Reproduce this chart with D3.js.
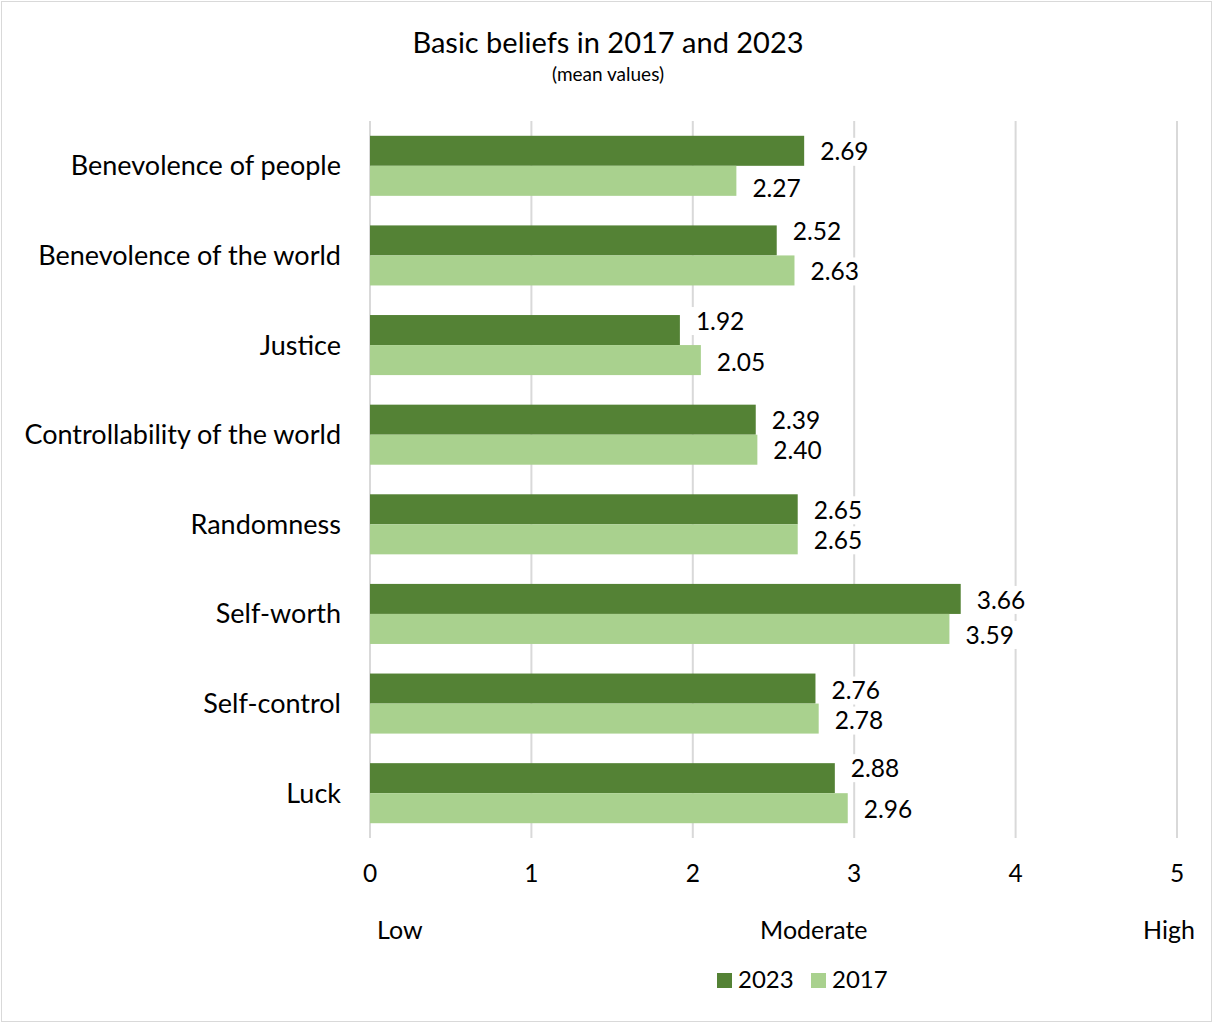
<!DOCTYPE html>
<html>
<head>
<meta charset="utf-8">
<script src="https://cdn.jsdelivr.net/npm/d3@7/dist/d3.min.js"></script>
<style>
  html, body { margin: 0; padding: 0; background: #fff; }
  svg { display: block; font-family: Lato, "Open Sans", sans-serif; }
</style>
</head>
<body>
<svg id="chart" width="1213" height="1023"></svg>
<script>
// Basic beliefs scales, mean values per survey year
const categories = [
  "Benevolence of people",
  "Benevolence of the world",
  "Justice",
  "Controllability of the world",
  "Randomness",
  "Self-worth",
  "Self-control",
  "Luck"
];
const values2023 = [2.69, 2.52, 1.92, 2.39, 2.65, 3.66, 2.76, 2.88];
const values2017 = [2.27, 2.63, 2.05, 2.40, 2.65, 3.59, 2.78, 2.96];
const seriesNames = ["2023", "2017"];
const xTicks = [0, 1, 2, 3, 4, 5];
const scaleLabels = [
  { text: "Low", value: 0 },
  { text: "Moderate", value: 2.75 },
  { text: "High", value: 5 }
];

// vertical nudges for value labels that would otherwise collide
const labelNudge2023 = [1, -9, -9, 1, 1, 1, 2, -10];
const labelNudge2017 = [8, 1, 2, 1, 1, 6, 2, 1];

const colors = { "2023": "#548235", "2017": "#A9D18E" };
const W = 1213, H = 1023;
const margin = { left: 370, right: 36, top: 121, bottom: 185 };

const svg = d3.select("#chart");

// outer frame
svg.append("rect")
  .attr("x", 1.5).attr("y", 1.5)
  .attr("width", W - 3).attr("height", H - 3)
  .attr("fill", "#fff").attr("stroke", "#d9d9d9").attr("stroke-width", 1);

// titles
svg.append("text")
  .attr("x", 608).attr("y", 53)
  .attr("text-anchor", "middle")
  .attr("font-size", 29).attr("fill", "#000")
  .text("Basic beliefs in 2017 and 2023");
svg.append("text")
  .attr("x", 608).attr("y", 81)
  .attr("text-anchor", "middle")
  .attr("font-size", 19).attr("fill", "#000")
  .text("(mean values)");

const x = d3.scaleLinear().domain([0, 5]).range([margin.left, W - margin.right]);
const y = d3.scaleBand().domain(categories)
  .range([margin.top, H - margin.bottom])
  .paddingInner(0.33).paddingOuter(0.165);
const ySub = d3.scaleBand().domain(seriesNames).range([0, y.bandwidth()]);

// gridlines
svg.append("g").selectAll("line")
  .data(xTicks).join("line")
  .attr("x1", d => x(d)).attr("x2", d => x(d))
  .attr("y1", margin.top).attr("y2", H - margin.bottom)
  .attr("stroke", "#d9d9d9").attr("stroke-width", 2);

// tick labels
svg.append("g").selectAll("text")
  .data(xTicks).join("text")
  .attr("x", d => x(d)).attr("y", 882)
  .attr("text-anchor", "middle")
  .attr("font-size", 24.5).attr("fill", "#000")
  .text(d => d);

// Low / Moderate / High
svg.append("g").selectAll("text")
  .data(scaleLabels).join("text")
  .attr("x", d => x(d.value) + (d.value === 0 ? 7 : (d.value === 5 ? -8 : 0)))
  .attr("y", 939)
  .attr("text-anchor", d => d.value === 0 ? "start" : "middle")
  .attr("font-size", 25).attr("fill", "#000")
  .text(d => d.text);

// category labels
svg.append("g").selectAll("text")
  .data(categories).join("text")
  .attr("x", margin.left - 29)
  .attr("y", d => y(d) + y.bandwidth() / 2)
  .attr("dy", "0.35em")
  .attr("text-anchor", "end")
  .attr("font-size", 27).attr("fill", "#000")
  .text(d => d);

const rows = categories.map((c, i) => ({
  cat: c,
  bars: [
    { series: "2023", value: values2023[i], nudge: labelNudge2023[i] },
    { series: "2017", value: values2017[i], nudge: labelNudge2017[i] }
  ]
}));

const groups = svg.append("g").selectAll("g")
  .data(rows).join("g")
  .attr("transform", d => `translate(0,${y(d.cat)})`);

groups.selectAll("rect")
  .data(d => d.bars).join("rect")
  .attr("x", x(0))
  .attr("y", d => ySub(d.series))
  .attr("width", d => x(d.value) - x(0))
  .attr("height", ySub.bandwidth())
  .attr("fill", d => colors[d.series]);

// value labels with white backing
const labels = groups.selectAll("g.lbl")
  .data(d => d.bars).join("g")
  .attr("class", "lbl")
  .attr("transform", d => `translate(${x(d.value) + 16},${ySub(d.series) + ySub.bandwidth() / 2 + d.nudge})`);

labels.append("rect")
  .attr("x", -6).attr("y", -14)
  .attr("width", 62).attr("height", 28)
  .attr("fill", "#fff");

labels.append("text")
  .attr("dy", "0.35em")
  .attr("font-size", 24.5).attr("fill", "#000")
  .text(d => d.value.toFixed(2));

// legend
const legend = svg.append("g").attr("transform", "translate(717,980)");
const legendItems = legend.selectAll("g")
  .data(seriesNames).join("g")
  .attr("transform", (d, i) => `translate(${i * 94},0)`);
legendItems.append("rect")
  .attr("x", 0).attr("y", -7)
  .attr("width", 15).attr("height", 15)
  .attr("fill", d => colors[d]);
legendItems.append("text")
  .attr("x", 21).attr("dy", "0.35em")
  .attr("font-size", 24).attr("fill", "#000")
  .text(d => d);
</script>
</body>
</html>
